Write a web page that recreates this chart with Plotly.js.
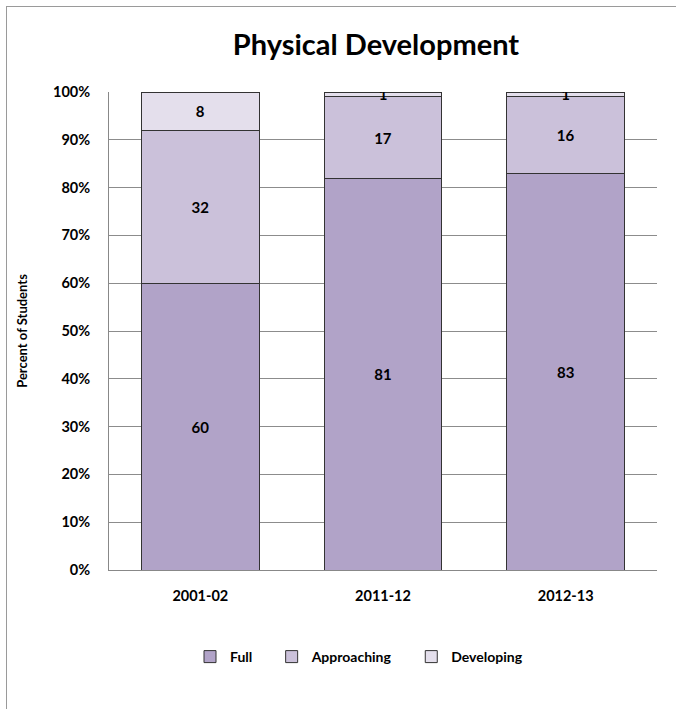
<!DOCTYPE html>
<html>
<head>
<meta charset="utf-8">
<script src="https://cdn.plot.ly/plotly-3.0.1.min.js"></script>
<style>
  html, body { margin: 0; padding: 0; background: #fff; }
  #frame { position: absolute; left: 6px; top: 6px; width: 700px; height: 720px; border: 1px solid #9a9a9a; box-sizing: border-box; }
  #chart { position: absolute; left: 0; top: 0; width: 676px; height: 709px; }
</style>
</head>
<body>
<div id="frame"></div>
<div id="chart"></div>
<script>
const categories = ["2001-02", "2011-12", "2012-13"];
const fullValues = [60, 81, 83];
const approachingValues = [32, 17, 16];
const developingValues = [8, 1, 1];
const seriesNames = ["Full", "Approaching", "Developing"];
const yTickVals = [0, 10, 20, 30, 40, 50, 60, 70, 80, 90, 100];
const yTickText = ["0%", "10%", "20%", "30%", "40%", "50%", "60%", "70%", "80%", "90%", "100%"];

const colors = ["#b1a3c8", "#cbc1da", "#e4dfec"];
const FONT = "Lato, 'Open Sans', sans-serif";
const legendPad = ["&nbsp;&nbsp;&nbsp;&nbsp;", "&nbsp;&nbsp;&nbsp;&nbsp;", ""];

const seriesValues = [fullValues, approachingValues, developingValues];
const traces = seriesValues.map((vals, i) => ({
  type: "bar",
  name: "<b>" + seriesNames[i] + "</b>" + legendPad[i],
  x: categories,
  y: vals,
  text: vals.map(String),
  texttemplate: "<b>%{text}</b>",
  textposition: "inside",
  insidetextanchor: "middle",
  textangle: 0,
  constraintext: "none",
  textfont: { family: FONT, size: 15, color: "#000" },
  marker: { color: colors[i], line: { color: "#333", width: 1 } },
  hoverinfo: "skip"
}));

const layout = {
  width: 676,
  height: 709,
  paper_bgcolor: "rgba(0,0,0,0)",
  plot_bgcolor: "#fff",
  barmode: "stack",
  barnorm: "percent",
  bargap: 0.355,
  margin: { l: 109, r: 19, t: 92, b: 139 },
  font: { family: FONT, color: "#000" },
  uniformtext: { mode: "show", minsize: 15 },
  title: {
    text: "<b>Physical Development</b>",
    font: { family: FONT, size: 29, color: "#000" },
    x: (376 - 109) / 548, xref: "paper", xanchor: "center",
    y: 1 - 45 / 709, yref: "container", yanchor: "middle"
  },
  xaxis: {
    type: "category",
    tickfont: { family: FONT, size: 14.5, color: "#000" },
    ticklabelstandoff: 13,
    tickprefix: "<b>", ticksuffix: "</b>",
    showline: true, linecolor: "#888", linewidth: 1,
    showgrid: false, zeroline: false, ticks: ""
  },
  yaxis: {
    range: [0, 100],
    tickvals: yTickVals,
    ticktext: yTickText.map(t => "<b>" + t + "</b>"),
    tickfont: { family: FONT, size: 14.5, color: "#000" },
    ticklabelstandoff: 15,
    showgrid: true, gridcolor: "#8c8c8c", gridwidth: 1,
    showline: true, linecolor: "#888", linewidth: 1,
    zeroline: false, ticks: "",
    title: { text: "<b>Percent of Students</b>", font: { family: FONT, size: 13, color: "#000" }, standoff: 22 }
  },
  legend: {
    orientation: "h",
    x: (359 - 109) / 548, xanchor: "center", xref: "paper",
    y: -(657 - 570) / 478, yanchor: "middle",
    font: { family: FONT, size: 14, color: "#000" },
    traceorder: "normal",
    itemwidth: 30
  },
  showlegend: true
};

Plotly.newPlot("chart", traces, layout, { displayModeBar: false, staticPlot: true });
</script>
</body>
</html>
